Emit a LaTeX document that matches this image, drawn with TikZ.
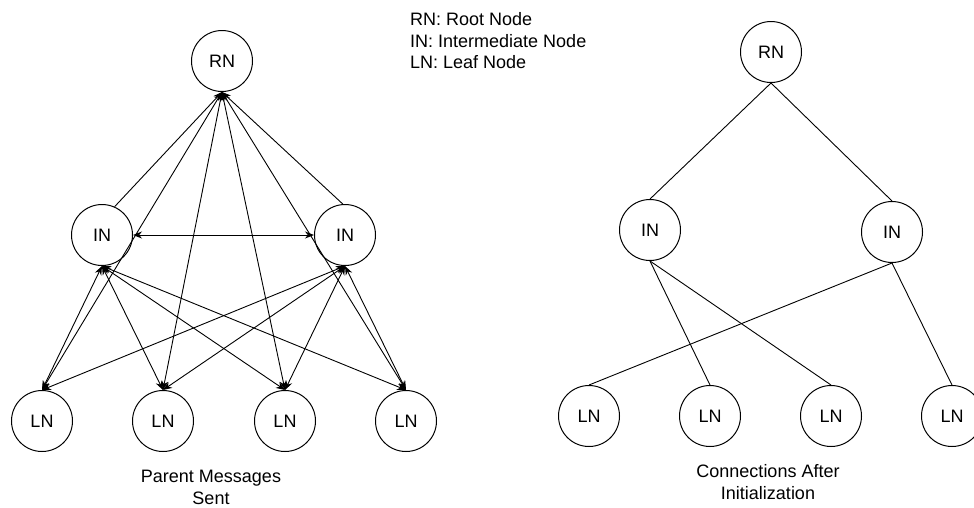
\documentclass[tikz,border=0pt]{standalone}
\usepackage{fontspec}
\setmainfont{Liberation Sans}
\usetikzlibrary{arrows.meta}
\begin{document}
\begin{tikzpicture}[x=1pt,y=-1pt,
  nd/.style={circle,draw,line width=1pt,minimum size=61pt,inner sep=0pt,font=\fontsize{18}{22}\selectfont},
  ln/.style={line width=0.9pt},
  arr/.style={ln,-{Stealth[length=9pt,width=7pt]}},
  barr/.style={ln,{Stealth[length=9pt,width=7pt]}-{Stealth[length=9pt,width=7pt]}},
  lbl/.style={inner sep=0pt,font=\fontsize{18}{22}\selectfont,align=center}]
\useasboundingbox (0,0) rectangle (974,507);
% left graph
\node[nd] (rnL) at (222,61) {RN};
\node[nd] (inL1) at (102,235) {IN};
\node[nd] (inL2) at (345,235) {IN};
\node[nd] (lnL1) at (42,421) {LN};
\node[nd] (lnL2) at (163,421) {LN};
\node[nd] (lnL3) at (285,421) {LN};
\node[nd] (lnL4) at (406,421) {LN};
% right graph
\node[nd] (rnR) at (771,52) {RN};
\node[nd] (inR1) at (650,230) {IN};
\node[nd] (inR2) at (892,232) {IN};
\node[nd] (lnR1) at (589,416) {LN};
\node[nd] (lnR2) at (710,416) {LN};
\node[nd] (lnR3) at (831,416) {LN};
\node[nd] (lnR4) at (952,416) {LN};
% texts
\node[lbl] (capL) at (211,487) {Parent Messages\\Sent};
\node[lbl] (capR) at (768,482.5) {Connections After\\Initialization};
\node[lbl,align=left,anchor=west,font=\fontsize{18}{21.5}\selectfont] (legend) at (410,41) {RN: Root Node\\IN: Intermediate Node\\LN: Leaf Node};
% left connectors
\draw[arr] (inL1.66) -- (rnL.south);
\draw[arr] (inL2.94) -- (rnL.south);
\draw[barr] (inL1.east) -- (inL2.west);
\foreach \l in {lnL1,lnL2,lnL3,lnL4}{
  \draw[barr] (rnL.south) -- (\l.north);
  \draw[barr] (inL1.south) -- (\l.north);
  \draw[barr] (inL2.south) -- (\l.north);
}
% right connectors
\draw[ln] (rnR.south) -- (inR1.north);
\draw[ln] (rnR.south) -- (inR2.north);
\draw[ln] (inR1.south) -- (lnR2.north);
\draw[ln] (inR1.south) -- (lnR3.north);
\draw[ln] (inR2.south) -- (lnR1.north);
\draw[ln] (inR2.south) -- (lnR4.north);
\end{tikzpicture}
\end{document}
